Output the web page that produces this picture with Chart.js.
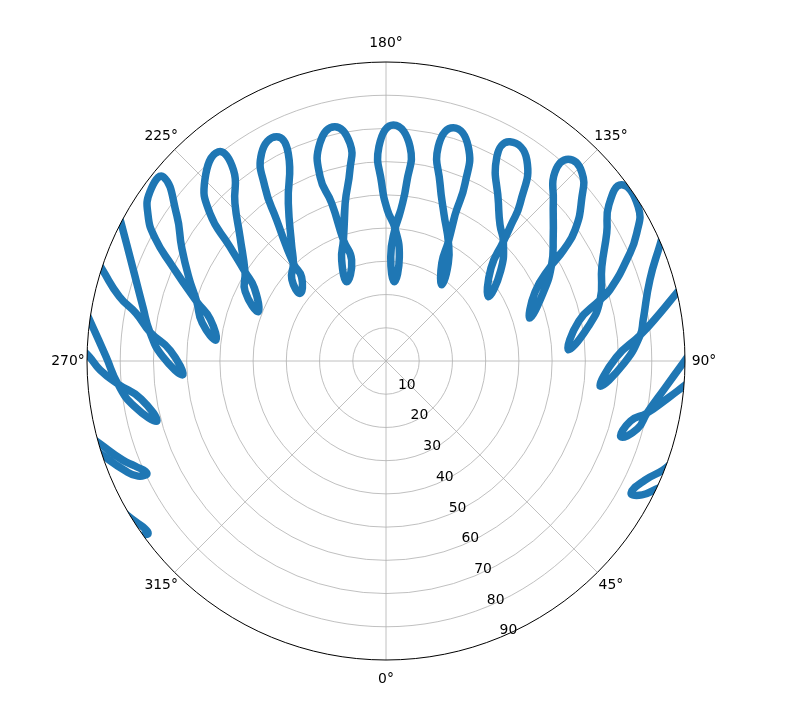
<!DOCTYPE html>
<html>
<head>
<meta charset="utf-8">
<script src="https://cdn.jsdelivr.net/npm/chart.js@4.4.0/dist/chart.umd.min.js"></script>
<style>
  body { margin: 0; background: #fff; }
  canvas { display: block; }
</style>
</head>
<body>
<canvas id="sky" width="791" height="710"></canvas>
<script>
// Eixo radial (zênite) e angular (azimute), em graus
const rTicks = [10, 20, 30, 40, 50, 60, 70, 80, 90];
const thetaTicks = [0, 45, 90, 135, 180, 225, 270, 315];
const rMax = 90;
const rLabelAngle = 22.5;

// Cada laço: azimute (graus) e ângulo zenital (graus)
const az_w6 = [299.6, 302.8, 304.3, 305.9, 305.6, 305.4];
const zen_w6 = [91.4, 89.5, 88.6, 88.4, 90.0, 92.0];

const az_w5 = [284.2, 286.0, 290.6, 292.7, 295.1, 294.9, 292.6, 288.4, 286.5];
const zen_w5 = [92.1, 89.8, 84.7, 81.9, 79.5, 82.3, 85.4, 89.9, 92.0];

const az_w4 = [260.3, 262.7, 269.1, 274.9, 280.2, 284.7, 278.8, 274.9, 271.8, 269.2, 267.6];
const zen_w4 = [92.0, 89.5, 84.3, 81.0, 77.0, 71.3, 74.6, 81.0, 86.1, 89.3, 92.0];

const az_w3 = [240.9, 242.5, 249.6, 257.4, 263.0, 268.8, 273.9, 267.2, 263.0, 259.2, 256.4, 252.2, 250.7];
const zen_w3 = [92.4, 89.9, 81.4, 75.0, 71.6, 67.3, 61.3, 65.0, 71.6, 76.6, 82.6, 89.6, 92.3];

const az_w2 = [252.6, 248.0, 241.1, 235.1, 230.4, 234.4, 238.5, 242.0, 245.9, 252.6, 256.6, 263.0, 258.3, 252.6, 248.0];
const zen_w2 = [59.7, 63.6, 70.2, 76.8, 87.0, 87.4, 84.0, 78.7, 70.7, 59.7, 54.4, 51.6, 56.5, 59.7, 63.6];

const az_w1 = [237.7, 229.6, 223.8, 218.6, 218.7, 225.0, 230.0, 233.8, 237.7, 241.0, 248.9, 243.7, 237.7, 229.6];
const zen_w1 = [50.2, 57.7, 65.7, 73.6, 80.7, 77.1, 69.2, 58.2, 50.2, 45.3, 41.2, 47.3, 50.2, 57.7];

const az_w0 = [223.5, 219.5, 211.8, 205.2, 206.0, 210.9, 214.8, 217.8, 223.5, 225.2, 231.8, 229.1, 223.5, 219.5];
const zen_w0 = [40.5, 44.6, 55.8, 69.1, 75.1, 72.9, 63.9, 53.7, 40.5, 35.8, 32.9, 37.5, 40.5, 44.6];

const az_cm1 = [199.4, 194.5, 190.7, 189.4, 192.3, 196.9, 199.7, 199.0, 199.4, 198.8, 206.4, 203.7, 199.4, 194.5];
const zen_cm1 = [38.6, 49.1, 58.5, 66.4, 72.2, 68.5, 58.8, 50.2, 38.6, 32.1, 26.6, 33.2, 38.6, 49.1];

const az_c0 = [176.1, 174.4, 173.4, 173.6, 178.2, 181.9, 181.4, 179.5, 176.1, 172.7, 174.0, 177.4, 176.1, 174.4];
const zen_c0 = [40.0, 45.7, 53.9, 64.9, 71.1, 64.5, 53.5, 45.5, 40.0, 31.6, 24.0, 31.4, 40.0, 45.7];

const az_c1 = [152.4, 154.7, 156.0, 159.0, 163.9, 166.3, 163.1, 158.3, 152.4, 147.5, 143.8, 150.3, 152.4, 154.7];
const zen_c1 = [40.5, 48.6, 58.5, 69.1, 73.1, 66.4, 55.9, 47.3, 40.5, 34.9, 28.4, 33.9, 40.5, 48.6];

const az_e2 = [135.5, 137.4, 139.6, 145.0, 150.5, 151.5, 144.5, 140.0, 135.5, 128.3, 122.1, 131.5, 135.5, 137.4];
const zen_e2 = [50.4, 55.6, 62.3, 73.9, 75.8, 69.9, 58.3, 53.4, 50.4, 44.0, 36.4, 42.2, 50.4, 55.6];

const az_e3 = [120.1, 122.0, 124.7, 129.5, 134.0, 137.9, 138.2, 133.9, 126.6, 120.1, 113.4, 106.6, 114.8, 120.1, 122.0];
const zen_e3 = [57.6, 63.0, 69.2, 76.3, 81.9, 81.8, 76.3, 69.9, 62.7, 57.6, 51.5, 45.2, 49.4, 57.6, 63.0];

const az_e4 = [105.9, 107.6, 112.8, 117.0, 121.5, 126.8, 125.0, 120.1, 113.6, 105.9, 99.6, 93.5, 101.7, 105.9, 107.6];
const zen_e4 = [67.0, 70.7, 78.6, 84.7, 89.0, 88.6, 81.9, 76.8, 70.9, 67.0, 61.7, 55.0, 59.3, 67.0, 70.7];

const az_e5 = [114.7, 113.0, 107.1, 99.1, 95.8, 89.4, 83.3, 90.9, 95.8, 99.9, 103.2, 104.5];
const zen_e5 = [91.9, 89.6, 83.1, 78.4, 76.9, 71.6, 64.9, 69.3, 76.9, 83.7, 89.9, 92.9];

const az_e6 = [91.9, 89.6, 84.5, 78.7, 74.9, 72.1, 76.2, 78.7, 82.5, 85.2, 86.7];
const zen_e6 = [92.1, 89.4, 84.4, 80.1, 78.4, 74.3, 75.8, 80.1, 85.6, 90.0, 92.7];

const az_e7 = [70.9, 68.5, 65.3, 61.7, 62.4, 64.6, 66.1];
const zen_e7 = [91.8, 89.6, 85.8, 83.8, 87.0, 89.9, 92.2];

const loops = [
    [az_w6, zen_w6], [az_w5, zen_w5], [az_w4, zen_w4], [az_w3, zen_w3],
    [az_w2, zen_w2], [az_w1, zen_w1], [az_w0, zen_w0], [az_cm1, zen_cm1],
    [az_c0, zen_c0], [az_c1, zen_c1], [az_e2, zen_e2], [az_e3, zen_e3],
    [az_e4, zen_e4], [az_e5, zen_e5], [az_e6, zen_e6], [az_e7, zen_e7]
];

// 0° embaixo, 90° à direita, 180° em cima (sentido anti-horário)
function toXY(az, zen) {
    const a = az * Math.PI / 180;
    return { x: zen * Math.sin(a), y: -zen * Math.cos(a) };
}

const datasets = loops.map(([az, zen]) => ({
    data: az.map((a, i) => toXY(a, zen[i])),
    showLine: true,
    borderColor: '#1f77b4',
    borderWidth: 7.5,
    borderCapStyle: 'round',
    borderJoinStyle: 'round',
    pointRadius: 0,
    tension: 0.5,
    fill: false
}));

// Grade polar, recorte circular e rótulos
const polarGrid = {
    id: 'polarGrid',
    beforeDatasetsDraw(chart) {
        const ctx = chart.ctx;
        const xs = chart.scales.x, ys = chart.scales.y;
        const cx = xs.getPixelForValue(0), cy = ys.getPixelForValue(0);
        const px = (az, r) => {
            const p = toXY(az, r);
            return [xs.getPixelForValue(p.x), ys.getPixelForValue(p.y)];
        };
        const R = xs.getPixelForValue(rMax) - cx;

        ctx.save();
        ctx.strokeStyle = '#b0b0b0';
        ctx.lineWidth = 0.8;
        rTicks.forEach(r => {
            if (r >= rMax) return;
            ctx.beginPath();
            ctx.arc(cx, cy, xs.getPixelForValue(r) - cx, 0, Math.PI * 2);
            ctx.stroke();
        });
        thetaTicks.forEach(t => {
            const [x, y] = px(t, rMax);
            ctx.beginPath();
            ctx.moveTo(cx, cy);
            ctx.lineTo(x, y);
            ctx.stroke();
        });
        ctx.restore();

        // recorta os laços no horizonte (zênite 90)
        ctx.save();
        ctx.beginPath();
        ctx.arc(cx, cy, R, 0, Math.PI * 2);
        ctx.clip();
    },
    afterDatasetsDraw(chart) {
        const ctx = chart.ctx;
        ctx.restore();

        const xs = chart.scales.x, ys = chart.scales.y;
        const cx = xs.getPixelForValue(0), cy = ys.getPixelForValue(0);
        const R = xs.getPixelForValue(rMax) - cx;
        const px = (az, r) => {
            const p = toXY(az, r);
            return [xs.getPixelForValue(p.x), ys.getPixelForValue(p.y)];
        };

        ctx.save();
        ctx.strokeStyle = '#000';
        ctx.lineWidth = 1;
        ctx.beginPath();
        ctx.arc(cx, cy, R, 0, Math.PI * 2);
        ctx.stroke();

        ctx.fillStyle = '#000';
        ctx.font = '13.9px "DejaVu Sans"';
        ctx.textAlign = 'center';
        ctx.textBaseline = 'middle';
        thetaTicks.forEach(t => {
            const a = t * Math.PI / 180;
            const d = R + 19;
            ctx.fillText(t + '°', cx + d * Math.sin(a), cy + d * Math.cos(a));
        });
        rTicks.forEach(r => {
            const [x, y] = px(rLabelAngle, r);
            ctx.fillText(String(r), x + 8, y - 6.5);
        });
        ctx.restore();
    }
};

new Chart(document.getElementById('sky'), {
    type: 'scatter',
    data: { datasets: datasets },
    options: {
        responsive: false,
        animation: false,
        layout: { padding: { left: 87, right: 106, top: 62, bottom: 50 } },
        scales: {
            x: { min: -rMax, max: rMax, display: false },
            y: { min: -rMax, max: rMax, display: false }
        },
        plugins: {
            legend: { display: false },
            tooltip: { enabled: false }
        }
    },
    plugins: [polarGrid]
});
</script>
</body>
</html>
